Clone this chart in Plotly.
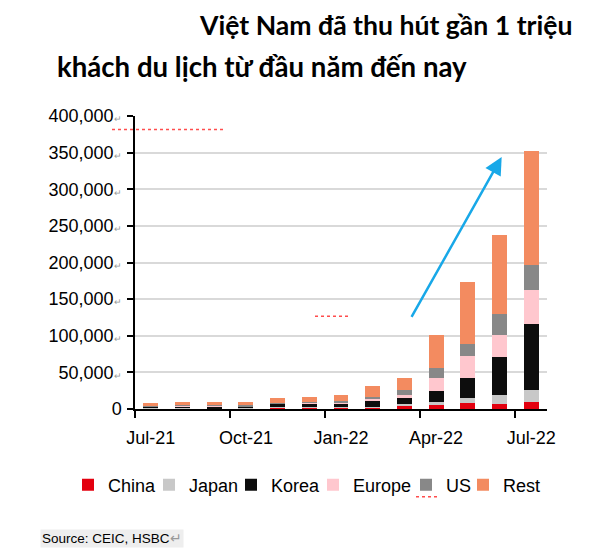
import plotly.graph_objects as go

months = ["Jul-21", "Aug-21", "Sep-21", "Oct-21", "Nov-21", "Dec-21", "Jan-22",
          "Feb-22", "Mar-22", "Apr-22", "May-22", "Jun-22", "Jul-22"]
china  = [1000, 500, 500, 500, 2000, 2000, 1500, 2000, 5000, 5000, 8000, 7000, 10000]
japan  = [500, 1500, 500, 1000, 500, 500, 1500, 1000, 2000, 4500, 7000, 11500, 16000]
korea  = [2000, 1000, 2500, 2000, 5000, 5500, 3500, 8000, 8000, 14500, 28000, 52000, 90000]
europe = [500, 2000, 1000, 500, 500, 500, 3000, 3000, 3500, 19000, 30000, 30500, 46000]
us     = [500, 500, 500, 1000, 500, 500, 2000, 3000, 7500, 13000, 16000, 29000, 35000]
rest   = [4000, 4000, 4500, 4000, 6000, 8000, 8000, 14000, 17000, 45000, 85000, 107000, 155000]

series_names = ["China", "Japan", "Korea", "Europe", "US", "Rest"]
series_values = [china, japan, korea, europe, us, rest]
series_colors = ["#e3000f", "#c8c8c8", "#0d0d0d", "#ffc7ce", "#888888", "#f38b60"]
# left pixel of each legend entry (one small legend per series, laid out in a row)
legend_left_px = [68, 149, 231, 313, 406, 463]

ytick_vals = list(range(0, 400001, 50000))
xtick_idx = [0, 3, 6, 9, 12]

x = list(range(len(months)))
fig = go.Figure()
legend_layouts = {}
for i, (name, vals, col) in enumerate(zip(series_names, series_values, series_colors)):
    lname = "legend" if i == 0 else f"legend{i + 1}"
    fig.add_trace(go.Bar(x=x, y=vals, name=name, legend=lname,
                         marker=dict(color=col, line=dict(width=0))))
    legend_layouts[lname] = dict(
        orientation="h", xref="container", yref="container",
        x=legend_left_px[i] / 610, xanchor="left", y=1 - 485 / 560, yanchor="middle",
        font=dict(family="Liberation Sans, Arial", size=18, color="#000"),
        bgcolor="rgba(0,0,0,0)", borderwidth=0)

ytext = []
for v in ytick_vals:
    if v == 0:
        ytext.append("0")
    else:
        ytext.append(f"{v:,}<span style='font-size:9px;color:#999999'>↵</span>")

axfont = dict(family="Liberation Sans, Arial", size=18, color="#000000")
fig.update_layout(
    width=610, height=560,
    margin=dict(l=135, r=63, t=116, b=151, autoexpand=False),
    barmode="stack", bargap=0.53,
    plot_bgcolor="white", paper_bgcolor="white",
    font=axfont,
    showlegend=True,
    xaxis=dict(range=[-0.5, 12.5], tickmode="array", tickvals=xtick_idx,
               ticktext=[months[i] for i in xtick_idx], ticks="", showgrid=False,
               showline=True, linecolor="#000", linewidth=1.5, zeroline=False,
               ticklabelstandoff=12,
               minor=dict(tick0=-0.5, dtick=3, ticks="outside", ticklen=7,
                          tickcolor="#000", tickwidth=1.5, showgrid=False)),
    yaxis=dict(range=[0, 400000], tickmode="array", tickvals=ytick_vals, ticktext=ytext,
               ticks="outside", ticklen=6, tickcolor="#000", tickwidth=1.5,
               showline=True, linecolor="#000", linewidth=1.5,
               showgrid=True, gridcolor="#d9d9d9", gridwidth=1.5, zeroline=False,
               ticklabelstandoff=2),
    **legend_layouts,
)

fig.add_annotation(x=11.07, y=344000, ax=8.2, ay=123600, xref="x", yref="y",
                   axref="x", ayref="y", showarrow=True, arrowhead=2, arrowsize=1.4,
                   arrowwidth=2.5, arrowcolor="#18a8e8", text="", standoff=0)

fig.add_annotation(text="<b>Việt Nam đã thu hút gần 1 triệu</b>", xref="paper", yref="paper",
                   x=(385 - 135) / 412, y=(408.5 - 26) / 292, xanchor="center", yanchor="middle",
                   showarrow=False,
                   font=dict(family="Lato, Open Sans, sans-serif", size=26.6, color="#000"))
fig.add_annotation(text="<b>khách du lịch từ đầu năm đến nay</b>", xref="paper", yref="paper",
                   x=(262 - 135) / 412, y=(408.5 - 67) / 292, xanchor="center", yanchor="middle",
                   showarrow=False,
                   font=dict(family="Lato, Open Sans, sans-serif", size=27.6, color="#000"))
fig.add_annotation(text="Source: CEIC, HSBC<span style='color:#999999'>↵</span>",
                   xref="paper", yref="paper", x=(40 - 135) / 412, y=(408.5 - 538) / 292,
                   xanchor="left", yanchor="middle", showarrow=False, bgcolor="#eeeeee",
                   borderpad=1,
                   font=dict(family="Liberation Sans, Arial", size=13.5, color="#000"))

for x0, x1, yy in [(112, 225, 130), (315, 351, 316), (416, 437, 496)]:
    fig.add_shape(type="line", xref="paper", yref="paper",
                  x0=(x0 - 135) / 412, x1=(x1 - 135) / 412,
                  y0=(408.5 - yy) / 292, y1=(408.5 - yy) / 292,
                  line=dict(color="#ff4d4d", width=1.5, dash="dot"))

fig.write_html("out.html")
